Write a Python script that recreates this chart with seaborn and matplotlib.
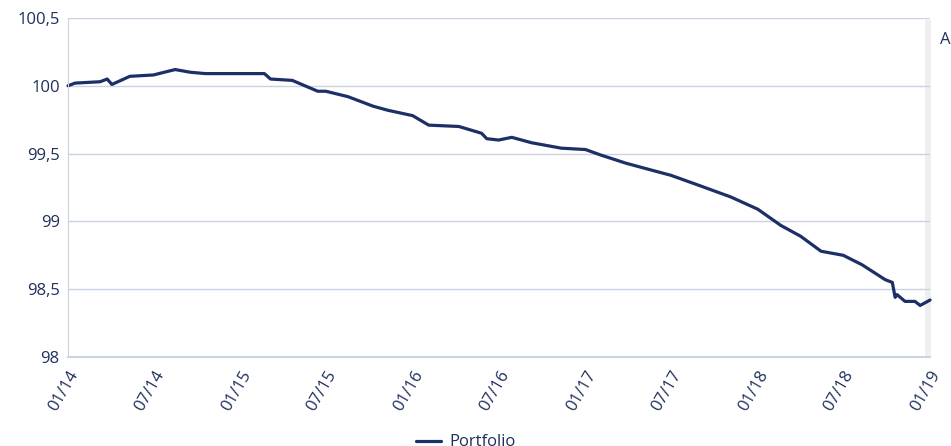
import pandas as pd
import numpy as np
import matplotlib.pyplot as plt
import matplotlib.dates as mdates
import seaborn as sns
from matplotlib.patches import Rectangle

# data
DATES = ["2014-01-01", "2014-01-16", "2014-03-10", "2014-03-25", "2014-04-04",
         "2014-05-12", "2014-07-01", "2014-08-16", "2014-09-17", "2014-10-19",
         "2015-01-01", "2015-02-21", "2015-03-06", "2015-04-21", "2015-06-14",
         "2015-07-01", "2015-08-17", "2015-10-09", "2015-11-09", "2016-01-01",
         "2016-02-04", "2016-04-08", "2016-05-26", "2016-06-06", "2016-07-01",
         "2016-07-29", "2016-09-09", "2016-11-11", "2017-01-01", "2017-02-02",
         "2017-03-27", "2017-05-19", "2017-07-01", "2017-09-03", "2017-11-05",
         "2018-01-01", "2018-02-19", "2018-04-02", "2018-05-15", "2018-07-01",
         "2018-08-10", "2018-09-28", "2018-10-13", "2018-10-19", "2018-10-23",
         "2018-11-09", "2018-11-30", "2018-12-11", "2019-01-01"]
PORTFOLIO = [100.00, 100.02, 100.03, 100.05, 100.01,
             100.07, 100.08, 100.12, 100.10, 100.09,
             100.09, 100.09, 100.05, 100.04, 99.96,
             99.96, 99.92, 99.85, 99.82, 99.78,
             99.71, 99.70, 99.65, 99.61, 99.60,
             99.62, 99.58, 99.54, 99.53, 99.49,
             99.43, 99.38, 99.34, 99.26, 99.18,
             99.09, 98.97, 98.89, 98.78, 98.75,
             98.68, 98.57, 98.55, 98.44, 98.46,
             98.41, 98.41, 98.38, 98.42]
Y_TICKS = [98, 98.5, 99, 99.5, 100, 100.5]
Y_TICK_LABELS = ["98", "98,5", "99", "99,5", "100", "100,5"]
X_TICK_DATES = ["2014-01-01", "2014-07-01", "2015-01-01", "2015-07-01", "2016-01-01",
                "2016-07-01", "2017-01-01", "2017-07-01", "2018-01-01", "2018-07-01",
                "2019-01-01"]

LINE_COLOR = "#1c2f66"
TEXT_COLOR = "#1f2f5c"
GRID_COLOR = "#c9d3e4"
FONT_SIZE = 12

sns.set_style("white")
plt.rcParams['font.family'] = ['Open Sans', 'DejaVu Sans']

df = pd.DataFrame({"Date": pd.to_datetime(DATES), "Portfolio": PORTFOLIO})

fig = plt.figure(figsize=(9.51, 4.46), dpi=100)
ax = fig.add_axes([0.0715, 0.1996, 0.9065, 0.76])
ax.set_facecolor("none")

sns.lineplot(data=df, x="Date", y="Portfolio", ax=ax, color=LINE_COLOR,
             linewidth=2.3, label="Portfolio", legend=False, clip_on=False)

ax.set_xlim(pd.Timestamp("2014-01-01"), pd.Timestamp("2019-01-01"))
ax.set_ylim(98, 100.5)
ax.set_yticks(Y_TICKS)
ax.set_yticklabels(Y_TICK_LABELS)
ax.set_xticks(pd.to_datetime(X_TICK_DATES))
ax.xaxis.set_major_formatter(mdates.DateFormatter("%m/%y"))
ax.set_xlabel("")
ax.set_ylabel("")

ax.grid(axis="y", color=GRID_COLOR, linewidth=1)
ax.set_axisbelow(True)
for side in ["top", "right"]:
    ax.spines[side].set_visible(False)
ax.spines["left"].set_color(GRID_COLOR)
ax.spines["bottom"].set_color(GRID_COLOR)
ax.spines["bottom"].set_linewidth(1.5)

ax.tick_params(axis="y", length=0, pad=6, labelsize=FONT_SIZE, labelcolor=TEXT_COLOR)
ax.tick_params(axis="x", length=6, width=1.2, color=GRID_COLOR, pad=2,
               labelsize=FONT_SIZE, labelcolor=TEXT_COLOR)
for lbl in ax.get_xticklabels():
    lbl.set_rotation(60)
    lbl.set_ha("right")
    lbl.set_rotation_mode("anchor")

# grå strimmel og afskåret tekst til højre
fig.patches.append(Rectangle((0.9725, 0.2), 0.006, 0.755, transform=fig.transFigure,
                             facecolor="#efefef", edgecolor="none", zorder=-1))
fig.text(0.988, 0.91, "A", color=TEXT_COLOR, fontsize=FONT_SIZE, va="center", ha="left")

fig.legend(loc="center", bbox_to_anchor=(0.49, 0.008), frameon=False,
           fontsize=FONT_SIZE, labelcolor=TEXT_COLOR, handlelength=1.5, handletextpad=0.5)

fig.savefig("out.png", dpi=100)
